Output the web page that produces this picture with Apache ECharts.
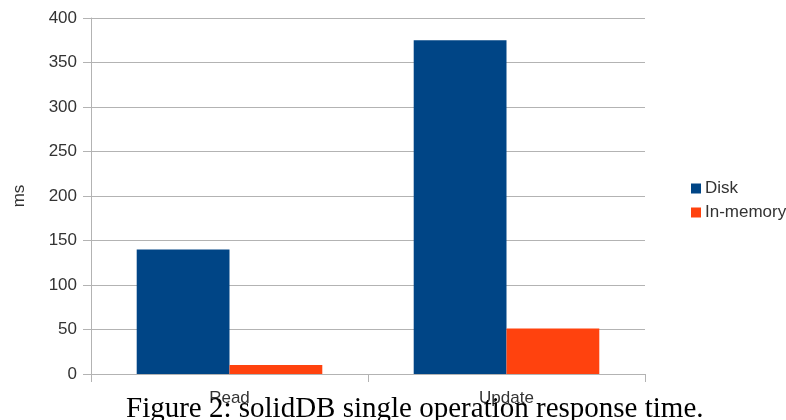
<!DOCTYPE html>
<html>
<head>
<meta charset="utf-8">
<script src="https://cdn.jsdelivr.net/npm/echarts@6/dist/echarts.min.js"></script>
<style>
  html, body { margin: 0; padding: 0; background: #fff; }
  #chart { width: 786px; height: 420px; }
</style>
</head>
<body>
<div id="chart"></div>
<script>
// Response time per operation type (ms)
const categories = ['Read', 'Update'];
const diskValues = [140, 375];
const inMemoryValues = [10, 51];
const yTicks = { min: 0, max: 400, interval: 50 };
const caption = 'Figure 2: solidDB single operation response time.';

const gridColor = '#b3b3b3';
const labelColor = '#333333';
const sans = '"Liberation Sans", Arial, sans-serif';

const chart = echarts.init(document.getElementById('chart'), null, { renderer: 'canvas' });
chart.setOption({
  animation: false,
  backgroundColor: '#ffffff',
  title: {
    text: caption,
    left: 126,
    top: 395,
    padding: 0,
    textStyle: {
      fontFamily: '"Liberation Serif", "Times New Roman", serif',
      fontSize: 29,
      fontWeight: 'normal',
      color: '#000000'
    }
  },
  grid: { left: 91, right: 141, top: 18, bottom: 46, containLabel: false },
  legend: {
    orient: 'vertical',
    left: 686,
    top: 175,
    icon: 'rect',
    itemWidth: 10,
    itemHeight: 10,
    itemGap: 7,
    textStyle: { fontFamily: sans, fontSize: 17, color: labelColor, padding: [0, 0, 0, -1] },
    data: ['Disk', 'In-memory']
  },
  xAxis: {
    type: 'category',
    data: categories,
    boundaryGap: true,
    axisLine: { lineStyle: { color: gridColor, width: 1 } },
    axisTick: { show: true, length: 8, lineStyle: { color: gridColor } },
    axisLabel: { fontFamily: sans, fontSize: 17, color: labelColor, margin: 16 },
    splitLine: { show: false }
  },
  yAxis: {
    type: 'value',
    min: yTicks.min,
    max: yTicks.max,
    interval: yTicks.interval,
    name: 'ms',
    nameLocation: 'middle',
    nameGap: 63,
    nameRotate: 90,
    nameTextStyle: { fontFamily: sans, fontSize: 17, color: labelColor },
    axisLine: { show: true, lineStyle: { color: gridColor, width: 1 } },
    axisTick: { show: true, length: 8, lineStyle: { color: gridColor } },
    axisLabel: { fontFamily: sans, fontSize: 17, color: labelColor, margin: 14 },
    splitLine: { show: true, lineStyle: { color: gridColor, width: 1 } }
  },
  series: [
    {
      name: 'Disk',
      type: 'bar',
      data: diskValues,
      barGap: '0%',
      barCategoryGap: '33%',
      itemStyle: { color: '#004586' }
    },
    {
      name: 'In-memory',
      type: 'bar',
      data: inMemoryValues,
      barGap: '0%',
      barCategoryGap: '33%',
      itemStyle: { color: '#ff420e' }
    }
  ]
});
</script>
</body>
</html>
